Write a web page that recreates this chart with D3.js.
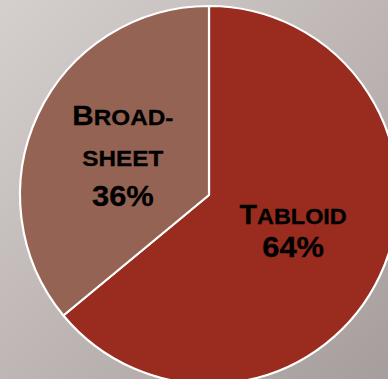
<!DOCTYPE html>
<html><head><meta charset="utf-8">
<script src="https://cdn.jsdelivr.net/npm/d3@7"></script>
<style>html,body{margin:0;padding:0;overflow:hidden;}svg{display:block;}</style>
</head><body>
<svg id="c" width="388" height="379"></svg>
<script>
const categories = ["Tabloid", "Broadsheet"];
const values = [64, 36];
const labelLines = [["Tabloid"], ["Broad-", "sheet"]];
const colors = ["#992b1f", "#956354"];

const svg = d3.select("#c");
const defs = svg.append("defs");
const grad = defs.append("linearGradient").attr("id","bg")
  .attr("x1","0").attr("y1","0").attr("x2","1").attr("y2","1");
grad.append("stop").attr("offset","0").attr("stop-color","#d5cfcd");
grad.append("stop").attr("offset","1").attr("stop-color","#a69e9c");
svg.append("rect").attr("width",388).attr("height",379).attr("fill","url(#bg)");

const cx = 209, cy = 195, R = 189;
const pie = d3.pie().sort(null).value(d => d);
const arcs = pie(values);
const arc = d3.arc().innerRadius(0).outerRadius(R);
const labelArc = d3.arc().innerRadius(93).outerRadius(93);

const g = svg.append("g").attr("transform", `translate(${cx},${cy})`);
g.selectAll("path").data(arcs).join("path")
  .attr("d", arc)
  .attr("fill", (d,i) => colors[i])
  .attr("stroke", "#ffffff")
  .attr("stroke-width", 2.2)
  .attr("stroke-linejoin", "round");

const total = d3.sum(values);
const lineOffsets = [[-10.6, 22.4], [-30.5, 11, 50.8]];
const xShift = [0, -2];
arcs.forEach((a, i) => {
  const [x, y] = labelArc.centroid(a);
  const lines = labelLines[i].concat([Math.round(values[i] / total * 100) + "%"]);
  lines.forEach((ln, j) => {
    const isPct = j === lines.length - 1;
    const sx = isPct ? 1.03 : (i === 0 ? 1.04 : 1.08);
    const t = g.append("text")
      .attr("transform", `translate(${x + xShift[i]},${y + lineOffsets[i][j]}) scale(${sx},1)`)
      .attr("text-anchor", "middle")
      .attr("font-family", "Liberation Sans, Arial, sans-serif")
      .attr("font-weight", "bold")
      .attr("fill", "#000")
      .attr("stroke", "#000")
      .attr("stroke-width", 0.3);
    if (isPct) {
      t.attr("font-size", 30).text(ln);
    } else if (j === 0) {
      t.append("tspan").attr("font-size", 27.5).text(ln[0].toUpperCase());
      t.append("tspan").attr("font-size", 22.5).text(ln.slice(1).toUpperCase());
    } else {
      t.append("tspan").attr("font-size", 22.5).text(ln.toUpperCase());
    }
  });
});
</script>
</body></html>
